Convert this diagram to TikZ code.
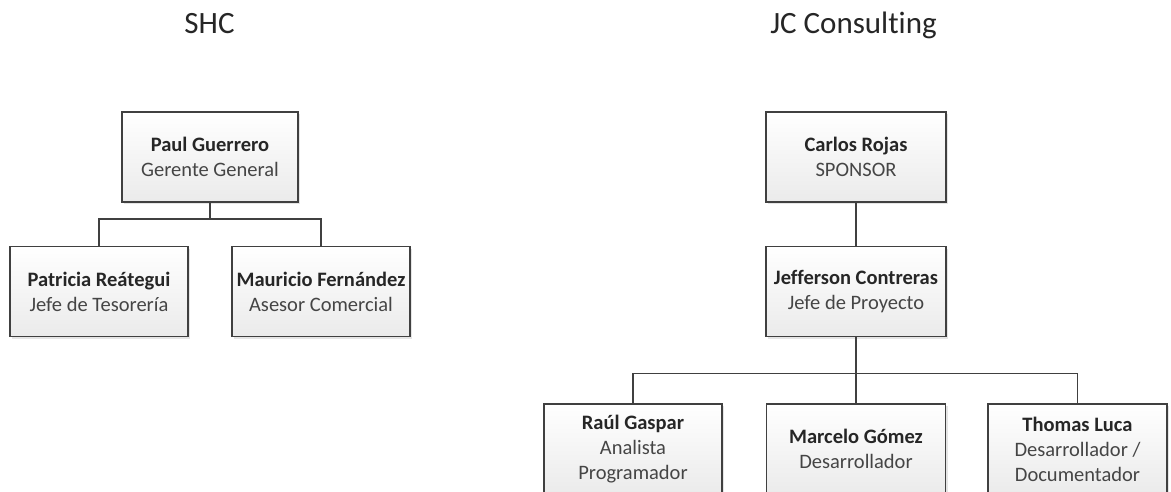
\documentclass[tikz,border=0pt]{standalone}
\usepackage{fontspec}
\setmainfont{Carlito}[Ligatures={NoCommon}]
\usetikzlibrary{shadows}
\definecolor{edge}{HTML}{404040}
\definecolor{namecol}{HTML}{262626}
\definecolor{rolecol}{HTML}{454545}
\tikzset{
  person/.style={draw=edge, line width=1.8pt, minimum width=178pt, minimum height=90pt,
    inner sep=0pt, align=center, top color=white, bottom color=black!8,
    font=\fontsize{20.5}{25}\selectfont, text=rolecol,
    drop shadow={shadow xshift=2pt, shadow yshift=-2pt, opacity=0.25, fill=black!40}},
  link/.style={draw=edge, line width=1.8pt},
  title/.style={anchor=base, font=\fontsize{31}{36}\selectfont, text=namecol}
}
\newcommand{\nm}[1]{{\bfseries\color{namecol}#1}}
\begin{document}
\begin{tikzpicture}[x=1pt, y=-1pt]
\useasboundingbox (0,0) rectangle (1171,491);
\clip (0,0) rectangle (1171,491);
\fill[white] (0,0) rectangle (1171,491);

% company headings
\node[title] (shc) at (209.5,33) {SHC};
\node[title] (jcc) at (853.5,33) {JC Consulting};

% SHC chart
\node[person, minimum width=176pt] (paul) at (210,157) {\nm{Paul Guerrero}\\Gerente General};
\node[person] (patricia) at (99,291.5) {\nm{Patricia Reátegui}\\Jefe de Tesorería};
\node[person] (mauricio) at (321,291.5) {\nm{Mauricio Fernández}\\Asesor Comercial};

\draw[link] (paul.south) -- ++(0,16) -| (patricia.north);
\draw[link] (paul.south) ++(0,16) -| (mauricio.north);

% JC Consulting chart
\node[person, minimum width=180pt] (carlos) at (856,157) {\nm{Carlos Rojas}\\SPONSOR};
\node[person, minimum width=180pt] (jefferson) at (856,291.5) {\nm{Jefferson Contreras}\\Jefe de Proyecto};
\node[person] (raul) at (633,449) {\nm{Raúl Gaspar}\\Analista\\Programador};
\node[person, minimum width=179pt] (marcelo) at (856,449) {\nm{Marcelo Gómez}\\Desarrollador};
\node[person, minimum width=179pt] (thomas) at (1077.5,449) {\nm{Thomas Luca}\\Desarrollador /\\Documentador};

\draw[link] (carlos.south) -- (jefferson.north);
\draw[link] (jefferson.south) -- (marcelo.north);
\draw[link] (jefferson.south) ++(0,36) -| (raul.north);
\draw[link] (jefferson.south) ++(0,36) -| (thomas.north);
\end{tikzpicture}
\end{document}
